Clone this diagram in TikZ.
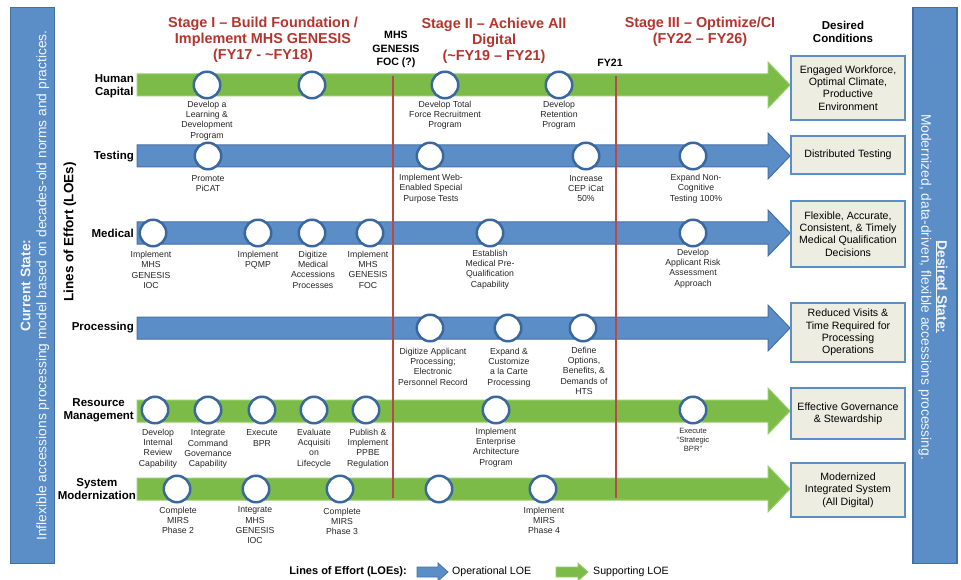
\documentclass[tikz,border=0pt]{standalone}
\usepackage{fontspec}
\setmainfont{Liberation Sans}

\definecolor{loeblue}{RGB}{91,142,199}
\definecolor{loeblueedge}{RGB}{68,112,166}
\definecolor{loegreen}{RGB}{125,187,73}
\definecolor{loegreenedge}{RGB}{150,206,108}
\definecolor{msring}{RGB}{58,103,158}
\definecolor{stagered}{RGB}{180,52,46}
\definecolor{goalfill}{RGB}{238,237,226}
\definecolor{baredge}{RGB}{66,110,160}

% one line of effort, at height #3
\newcommand\loe[3]{%
  \draw[fill=#1, draw=#2, line width=1pt, shift={(0,#3)}]
    (137,-11) -- (768,-11) -- (768,-23) -- (790,0) -- (768,23) -- (768,11) -- (137,11) -- cycle;}

\begin{document}
\begin{tikzpicture}[x=1pt, y=-1pt,
  statebar/.style={draw=baredge, fill=loeblue, line width=1.5pt, minimum width=44pt,
    minimum height=556pt, inner sep=0pt},
  statetext/.style={align=center, inner sep=0pt, text=white!92!loeblue,
    font=\fontsize{13.8}{16}\selectfont},
  stage/.style={align=center, text=stagered, font=\fontsize{14.4}{16.2}\selectfont\bfseries},
  head/.style={align=center, font=\fontsize{10.6}{13.6}\selectfont\bfseries},
  loename/.style={anchor=east, align=center, inner sep=0pt, font=\fontsize{11.5}{13}\selectfont\bfseries},
  ms/.style={circle, draw=msring, line width=2.5pt, fill=white, minimum size=26.5pt, inner sep=0pt},
  mslabel/.style={anchor=north, align=center, inner sep=0pt, text=black!85,
    font=\fontsize{8.7}{10.4}\selectfont},
  goal/.style={draw=loeblue, line width=2.4pt, fill=goalfill, minimum width=113.6pt,
    inner sep=2pt, align=center, font=\fontsize{10.6}{12.4}\selectfont},
  cut/.style={draw=stagered!90!white, line width=1.3pt}]
  \useasboundingbox (0,0) rectangle (961,580);

  % current and desired state
  \node[statebar] (cur) at (32.5,285.5) {};
  \node[statetext, rotate=90] (curt) at (35,285.5)
    {\textbf{Current State:}\\Inflexible accessions processing model based on decades-old norms and practices.};
  \node[statebar] (des) at (935,285.5) {};
  \node[statetext, rotate=-90] (dest) at (933,287)
    {\textbf{\underline{Desired State:}}\\Modernized, data-driven, flexible accessions processing.};
  \node[rotate=90, font=\fontsize{13.5}{15}\selectfont\bfseries] (loes) at (70,232) {Lines of Effort (LOEs)};

  % stages
  \node[stage] (st1) at (263,40) {Stage I -- Build Foundation /\\Implement MHS GENESIS\\(FY17 - \textasciitilde FY18)};
  \node[stage] (st2) at (494,40.5) {Stage II -- Achieve All\\Digital\\(\textasciitilde FY19 -- FY21)};
  \node[stage] (st3) at (700,31.5) {Stage III -- Optimize/CI\\(FY22 -- FY26)};
  \node[head, font=\fontsize{11.5}{13}\selectfont\bfseries] (dc) at (843,31.5) {Desired\\Conditions};
  \node[head] (foc) at (396,49.5) {MHS\\GENESIS\\FOC (?)};
  \node[head] (fy21) at (610,63) {FY21};

  % lines of effort
  \loe{loegreen}{loegreenedge}{85}
  \loe{loeblue}{loeblueedge}{156}
  \loe{loeblue}{loeblueedge}{233}
  \loe{loeblue}{loeblueedge}{328}
  \loe{loegreen}{loegreenedge}{411}
  \loe{loegreen}{loegreenedge}{489}

  \draw[cut] (393,76) -- (393,498);
  \draw[cut] (616,76) -- (616,498);

  \node[loename] (hc) at (134,86) {Human\\Capital};
  \node[loename] (ts) at (134,157) {Testing};
  \node[loename] (md) at (134,233) {Medical};
  \node[loename] (pr) at (134,328) {Processing};
  \node[loename] (rm) at (134,410) {Resource\\Management};
  \node[loename] (sm) at (136,489) {System\\Modernization};

  % human capital
  \node[ms] (hc1) at (207,85) {};
  \node[ms] (hc2) at (312,85) {};
  \node[ms] (hc3) at (445,85) {};
  \node[ms] (hc4) at (559,85) {};
  \node[mslabel] (hc1l) at (207,100.5) {Develop a\\Learning \&\\Development\\Program};
  \node[mslabel] (hc3l) at (445,100.5) {Develop Total\\Force Recruitment\\Program};
  \node[mslabel] (hc4l) at (559,100.5) {Develop\\Retention\\Program};

  % testing
  \node[ms] (ts1) at (208,156) {};
  \node[ms] (ts2) at (430,156) {};
  \node[ms] (ts3) at (586,156) {};
  \node[ms] (ts4) at (693,156) {};
  \node[mslabel] (ts1l) at (208,175) {Promote\\PiCAT};
  \node[mslabel] (ts2l) at (431,174) {Implement Web-\\Enabled Special\\Purpose Tests};
  \node[mslabel] (ts3l) at (586,175) {Increase\\CEP iCat\\50\%};
  \node[mslabel] (ts4l) at (696,174) {Expand Non-\\Cognitive\\Testing 100\%};

  % medical
  \node[ms] (md1) at (153,233) {};
  \node[ms] (md2) at (258,233) {};
  \node[ms] (md3) at (312,233) {};
  \node[ms] (md4) at (370,233) {};
  \node[ms] (md5) at (490,233) {};
  \node[ms] (md6) at (693,233) {};
  \node[mslabel] (md1l) at (151,251) {Implement\\MHS\\GENESIS\\IOC};
  \node[mslabel] (md2l) at (258,251) {Implement\\PQMP};
  \node[mslabel] (md3l) at (313,250.5) {Digitize\\Medical\\Accessions\\Processes};
  \node[mslabel] (md4l) at (368,250.5) {Implement\\MHS\\GENESIS\\FOC};
  \node[mslabel] (md5l) at (490,249.5) {Establish\\Medical Pre-\\Qualification\\Capability};
  \node[mslabel] (md6l) at (693,248.5) {Develop\\Applicant Risk\\Assessment\\Approach};

  % processing
  \node[ms] (pr1) at (430,328) {};
  \node[ms] (pr2) at (508,328) {};
  \node[ms] (pr3) at (583,328) {};
  \node[mslabel] (pr1l) at (433,347.5) {Digitize Applicant\\Processing;\\Electronic\\Personnel Record};
  \node[mslabel] (pr2l) at (509,347.5) {Expand \&\\Customize\\a la Carte\\Processing};
  \node[mslabel] (pr3l) at (584,346.5) {Define\\Options,\\Benefits, \&\\Demands of\\HTS};

  % resource management
  \node[ms] (rm1) at (155,410) {};
  \node[ms] (rm2) at (208,410) {};
  \node[ms] (rm3) at (262,410) {};
  \node[ms] (rm4) at (314,410) {};
  \node[ms] (rm5) at (366,410) {};
  \node[ms] (rm6) at (496,410) {};
  \node[ms] (rm7) at (693,410) {};
  \node[mslabel] (rm1l) at (158,428.5) {Develop\\Internal\\Review\\Capability};
  \node[mslabel] (rm2l) at (208,429.5) {Integrate\\Command\\Governance\\Capability};
  \node[mslabel] (rm3l) at (262,429.5) {Execute\\BPR};
  \node[mslabel] (rm4l) at (314,428.5) {Evaluate\\Acquisiti\\on\\Lifecycle};
  \node[mslabel] (rm5l) at (368,428.5) {Publish \&\\Implement\\PPBE\\Regulation};
  \node[mslabel] (rm6l) at (496,427.5) {Implement\\Enterprise\\Architecture\\Program};
  \node[mslabel, font=\fontsize{7.6}{9}\selectfont] (rm7l) at (693,428.5) {Execute\\“Strategic\\BPR”};

  % system modernization
  \node[ms] (sm1) at (177,489) {};
  \node[ms] (sm2) at (256,489) {};
  \node[ms] (sm3) at (340,489) {};
  \node[ms] (sm4) at (439,489) {};
  \node[ms] (sm5) at (543,489) {};
  \node[mslabel] (sm1l) at (178,506.5) {Complete\\MIRS\\Phase 2};
  \node[mslabel] (sm2l) at (255,506.5) {Integrate\\MHS\\GENESIS\\IOC};
  \node[mslabel] (sm3l) at (342,507.5) {Complete\\MIRS\\Phase 3};
  \node[mslabel] (sm5l) at (544,506.5) {Implement\\MIRS\\Phase 4};

  % desired conditions
  \node[goal, minimum height=63.6pt] (g1) at (848,88) {Engaged Workforce,\\Optimal Climate,\\Productive\\Environment};
  \node[goal, minimum height=37.6pt] (g2) at (848,155) {Distributed Testing};
  \node[goal, minimum height=65.6pt] (g3) at (848,234) {Flexible, Accurate,\\Consistent, \& Timely\\Medical Qualification\\Decisions};
  \node[goal, minimum height=58.6pt] (g4) at (848,332.5) {Reduced Visits \&\\Time Required for\\Processing\\Operations};
  \node[goal, minimum height=50.6pt] (g5) at (848,413.5) {Effective Governance\\\& Stewardship};
  \node[goal, minimum height=53.6pt] (g6) at (848,490) {Modernized\\Integrated System\\(All Digital)};

  % legend
  \node[anchor=east, inner sep=0pt, font=\fontsize{11}{13}\selectfont\bfseries] (leg) at (407,572) {Lines of Effort (LOEs):};
  \draw[fill=loeblue, draw=loeblueedge, line width=0.8pt, shift={(417,572)}]
    (0,-5) -- (21,-5) -- (21,-9) -- (31,0) -- (21,9) -- (21,5) -- (0,5) -- cycle;
  \node[anchor=west, inner sep=0pt, font=\fontsize{10.6}{13}\selectfont] (legop) at (452,572) {Operational LOE};
  \draw[fill=loegreen, draw=loegreenedge, line width=0.8pt, shift={(556,572)}]
    (0,-5) -- (22,-5) -- (22,-9) -- (32,0) -- (22,9) -- (22,5) -- (0,5) -- cycle;
  \node[anchor=west, inner sep=0pt, font=\fontsize{10.6}{13}\selectfont] (legsup) at (593,572) {Supporting LOE};
\end{tikzpicture}
\end{document}
